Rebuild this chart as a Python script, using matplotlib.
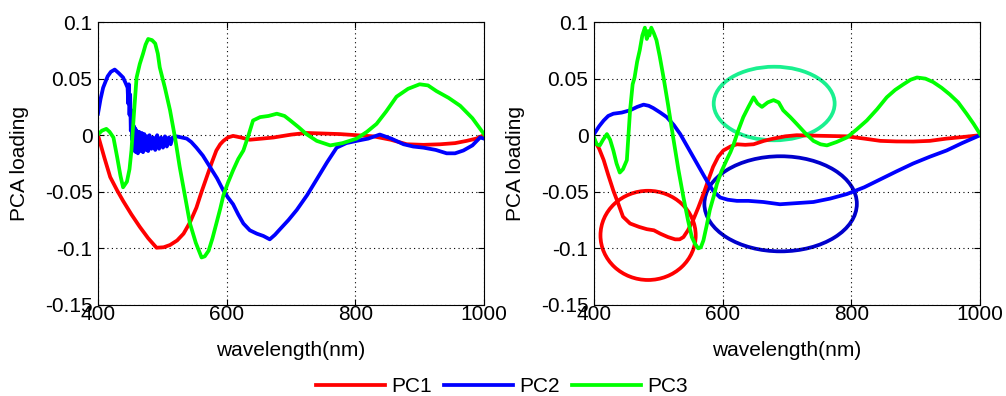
import matplotlib
matplotlib.use("Agg")
import matplotlib.pyplot as plt
from matplotlib.patches import Ellipse

plt.rcParams['font.family'] = ['Liberation Sans', 'DejaVu Sans']

# ---- left panel ----
l_pc1_x = [400, 410, 419, 430, 439, 452, 465, 478, 491, 502, 512, 523, 533, 543, 553, 561, 569, 577,
           584, 590, 595, 602, 610, 622, 636, 655, 673, 700, 724, 750, 776, 802, 828, 855, 880, 906,
           932, 955, 973, 988, 1000]
l_pc1_y = [0, -0.02, -0.037, -0.049, -0.058, -0.070, -0.081, -0.091, -0.0994, -0.099, -0.097, -0.093,
           -0.087, -0.077, -0.064, -0.050, -0.037, -0.024, -0.0135, -0.008, -0.005, -0.002, -0.0006,
           -0.002, -0.004, -0.003, -0.002, 0.0005, 0.002, 0.0015, 0.001, 0.0, -0.001, -0.004, -0.008,
           -0.0085, -0.008, -0.007, -0.005, -0.003, 0]

l_pc2_x = [400, 404, 408, 415, 420, 426, 432, 439, 443, 446, 447, 448, 449, 450, 451, 452, 453, 454,
           455, 456, 457, 458, 459, 460, 462, 464, 466, 468, 470, 472, 474, 476, 478, 480, 483, 486,
           489, 492, 495, 498, 501, 504, 507, 510, 513, 516, 522, 530, 538, 545, 553, 563, 574, 585,
           595, 602, 610, 618, 626, 636, 647, 657, 667, 675, 683, 696, 709, 725, 740, 756, 771, 786,
           802, 820, 838, 856, 875, 890, 906, 925, 942, 955, 968, 982, 994, 1000]
l_pc2_y = [0.019, 0.032, 0.042, 0.052, 0.056, 0.058, 0.055, 0.051, 0.046, 0.042, 0.028, 0.045, 0.018,
           0.036, 0.004, 0.022, -0.004, 0.009, -0.012, 0.008, -0.014, 0.006, -0.015, 0.004, -0.016,
           0.003, -0.014, 0.002, -0.015, 0.001, -0.013, -0.001, -0.014, 0.0, -0.012, -0.002, -0.013,
           0.0, -0.012, -0.002, -0.011, -0.001, -0.010, -0.002, -0.008, -0.002, -0.001, -0.002, -0.003,
           -0.006, -0.011, -0.018, -0.028, -0.038, -0.049, -0.055, -0.061, -0.070, -0.078, -0.084,
           -0.087, -0.089, -0.092, -0.088, -0.083, -0.075, -0.066, -0.053, -0.039, -0.024, -0.011,
           -0.007, -0.005, -0.003, 0.0006, -0.003, -0.008, -0.010, -0.011, -0.013, -0.016, -0.016,
           -0.0135, -0.009, -0.002, -0.003]

l_pc3_x = [400, 406, 413, 418, 424, 430, 435, 439, 445, 449, 452, 456, 460, 465, 470, 474, 478, 484,
           489, 493, 496, 504, 512, 520, 527, 535, 543, 552, 561, 566, 572, 578, 584, 590, 595, 602,
           610, 618, 626, 634, 641, 652, 665, 678, 690, 699, 712, 724, 740, 761, 780, 802, 818, 833,
           848, 864, 882, 900, 913, 926, 945, 963, 982, 1000]
l_pc3_y = [0.0006, 0.004, 0.0056, 0.003, -0.002, -0.020, -0.036, -0.046, -0.041, -0.030, -0.0135,
           0.020, 0.051, 0.063, 0.072, 0.080, 0.085, 0.084, 0.081, 0.072, 0.060, 0.042, 0.022, -0.003,
           -0.028, -0.053, -0.078, -0.095, -0.108, -0.107, -0.102, -0.091, -0.078, -0.065, -0.053,
           -0.042, -0.031, -0.021, -0.0135, 0.0, 0.013, 0.016, 0.017, 0.019, 0.017, 0.013, 0.007,
           0.001, -0.005, -0.009, -0.007, -0.003, 0.003, 0.010, 0.021, 0.034, 0.041, 0.045, 0.044,
           0.039, 0.033, 0.026, 0.015, 0.001]

# ---- right panel ----
r_pc1_x = [400, 408, 415, 422, 430, 438, 445, 456, 470, 482, 493, 503, 515, 526, 533, 539, 546, 554,
           562, 570, 578, 585, 593, 601, 612, 622, 635, 648, 664, 679, 697, 715, 750, 793, 820, 845,
           870, 896, 922, 948, 975, 1000]
r_pc1_y = [-0.004, -0.012, -0.022, -0.035, -0.049, -0.061, -0.072, -0.078, -0.081, -0.083, -0.084,
           -0.087, -0.090, -0.092, -0.092, -0.090, -0.084, -0.075, -0.064, -0.052, -0.039, -0.028,
           -0.019, -0.0135, -0.010, -0.008, -0.0085, -0.008, -0.005, -0.003, -0.001, 0, -0.0005,
           -0.001, -0.003, -0.005, -0.0055, -0.0056, -0.005, -0.003, -0.0015, 0]

r_pc2_x = [400, 408, 415, 422, 430, 443, 456, 467, 477, 485, 492, 503, 513, 524, 534, 544, 554, 565,
           575, 585, 596, 608, 622, 640, 663, 689, 715, 741, 767, 793, 820, 845, 870, 896, 922, 948,
           972, 1000]
r_pc2_y = [0.001, 0.008, 0.013, 0.017, 0.019, 0.020, 0.022, 0.025, 0.027, 0.026, 0.024, 0.020, 0.016,
           0.009, 0.001, -0.009, -0.019, -0.030, -0.040, -0.049, -0.055, -0.057, -0.058, -0.058,
           -0.059, -0.061, -0.060, -0.059, -0.056, -0.052, -0.046, -0.039, -0.032, -0.025, -0.019,
           -0.0135, -0.007, 0]

r_pc3_x = [400, 404, 409, 414, 420, 425, 430, 435, 440, 445, 451, 456, 460, 463, 467, 471, 475, 479,
           482, 484, 486, 489, 493, 497, 502, 508, 515, 523, 531, 539, 546, 552, 557, 562, 566, 570,
           575, 580, 586, 591, 598, 606, 612, 617, 624, 632, 640, 648, 654, 661, 670, 679, 687, 694,
           705, 715, 728, 741, 752, 762, 777, 793, 808, 824, 840, 855, 868, 881, 892, 902, 915, 927,
           940, 953, 966, 979, 990, 1000]
r_pc3_y = [-0.002, -0.008, -0.009, -0.004, 0.001, -0.004, -0.0135, -0.025, -0.033, -0.030, -0.022,
           0.022, 0.045, 0.051, 0.065, 0.075, 0.088, 0.095, 0.085, 0.092, 0.088, 0.095, 0.090, 0.084,
           0.070, 0.051, 0.027, -0.002, -0.030, -0.055, -0.075, -0.090, -0.096, -0.100, -0.099,
           -0.093, -0.080, -0.066, -0.054, -0.043, -0.032, -0.022, -0.015, -0.008, 0.004, 0.016,
           0.025, 0.0335, 0.028, 0.025, 0.029, 0.031, 0.029, 0.022, 0.016, 0.010, 0.002, -0.005,
           -0.008, -0.009, -0.006, -0.002, 0.005, 0.013, 0.023, 0.0335, 0.040, 0.045, 0.049, 0.051,
           0.050, 0.047, 0.042, 0.036, 0.029, 0.019, 0.010, 0.001]

# highlighted regions on the right panel: (centre x, centre y, width, height, colour)
ellipses = [
    (484, -0.0885, 148, 0.0788, '#ff0000'),
    (690, -0.0606, 237, 0.084, '#0000cc'),
    (680, 0.028, 188, 0.065, '#19f08f'),
]

colors = ['#ff0000', '#0000ff', '#00ff00']
labels = ['PC1', 'PC2', 'PC3']

fig = plt.figure(figsize=(10.06, 3.96), dpi=100)
ax1 = fig.add_axes([0.0974, 0.2298, 0.3837, 0.7146])
ax2 = fig.add_axes([0.5905, 0.2298, 0.3837, 0.7146])

panels = [
    (ax1, [(l_pc1_x, l_pc1_y), (l_pc2_x, l_pc2_y), (l_pc3_x, l_pc3_y)]),
    (ax2, [(r_pc1_x, r_pc1_y), (r_pc2_x, r_pc2_y), (r_pc3_x, r_pc3_y)]),
]

handles = []
for ax, series in panels:
    handles = []
    for (x, y), c, lab in zip(series, colors, labels):
        h, = ax.plot(x, y, color=c, lw=2.7, label=lab, solid_joinstyle='round')
        handles.append(h)
    ax.set_xlim(400, 1000)
    ax.set_ylim(-0.15, 0.1)
    ax.set_xticks([400, 600, 800, 1000])
    ax.set_yticks([-0.15, -0.1, -0.05, 0, 0.05, 0.1])
    ax.set_yticklabels(['-0.15', '-0.1', '-0.05', '0', '0.05', '0.1'])
    ax.grid(True, color='black', linestyle=(0, (1, 3)), linewidth=0.8)
    ax.tick_params(direction='in', length=4, labelsize=15, top=True, right=True)
    ax.tick_params(axis='x', pad=0)
    ax.tick_params(axis='y', pad=4)
    ax.set_xlabel('wavelength(nm)', fontsize=15, labelpad=12)
    ax.set_ylabel('PCA loading', fontsize=15, labelpad=11)
    for s in ax.spines.values():
        s.set_linewidth(0.8)

for cx, cy, w, h, c in ellipses:
    ax2.add_patch(Ellipse((cx, cy), w, h, fill=False, edgecolor=c, lw=2.7))

fig.legend(handles, labels, loc='center', bbox_to_anchor=(0.499, 0.024), ncol=3, frameon=False,
           fontsize=15, handlelength=3.3, handletextpad=0.3, columnspacing=0.6,
           borderaxespad=0)

fig.savefig('out.png', dpi=100)
